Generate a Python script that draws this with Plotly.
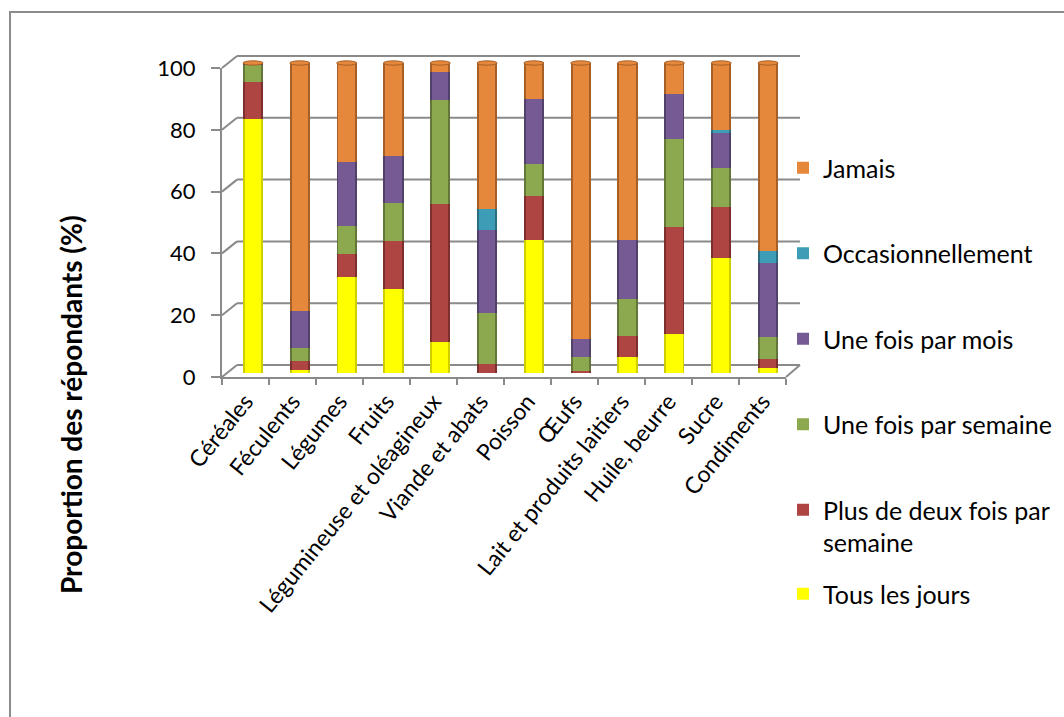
import plotly.graph_objects as go

# Food groups (x axis)
categories = [
    "Céréales", "Féculents", "Légumes", "Fruits", "Légumineuse et oléagineux",
    "Viande et abats", "Poisson", "Œufs", "Lait et produits laitiers",
    "Huile, beurre", "Sucre", "Condiments",
]

# Consumption frequency, % of respondents (stack order bottom -> top)
tous_les_jours = [82, 1, 31, 27, 10, 0, 43, 0, 5, 12.5, 37, 1.5]
plus_deux_fois = [12, 3, 7.5, 15.5, 44.5, 3, 14, 0.5, 7, 34.5, 16.5, 3]
une_fois_semaine = [5.5, 4, 9, 12.5, 33.5, 16.5, 10.5, 4.7, 12, 28.5, 12.5, 7]
une_fois_mois = [0.3, 12, 20.5, 15, 9, 26.5, 21, 5.7, 19, 14.5, 11.5, 24]
occasionnellement = [0, 0, 0, 0, 0, 7, 0, 0, 0, 0, 1, 4]
jamais = [0.2, 80, 32, 30, 3, 47, 11.5, 89.1, 57, 10, 21.5, 60.5]

y_ticks = [0, 20, 40, 60, 80, 100]

W, H = 1064, 717
FONT = "Lato"
GRID = "#8A8A8A"


def px(x):
    return x / W


def py(y):
    return 1 - y / H


# value -> pixel row on the front axis and on the back wall of the 3D frame
def front_row(v):
    return 377 - v * 3.09


def back_row(v):
    return 365 - v * 3.09


# (legend label, values, face colour, edge colour, legend, legend rank)
series = [
    ("Tous les jours", tous_les_jours, "#FFFF00", "#CFCF00", "legend2", 1),
    ("Plus de deux fois par<br>semaine", plus_deux_fois, "#AE4542", "#7C2F2D", "legend", 5),
    ("Une fois par semaine", une_fois_semaine, "#8DA94F", "#637838", "legend", 4),
    ("Une fois par mois", une_fois_mois, "#765A94", "#51406A", "legend", 3),
    ("Occasionnellement", occasionnellement, "#3E9DB6", "#2A6F81", "legend", 2),
    ("Jamais", jamais, "#E6883B", "#A65F27", "legend", 1),
]

fig = go.Figure()

# dark outer body of each cylinder
for name, vals, light, dark, leg, rank in series:
    fig.add_trace(go.Bar(
        x=categories, y=vals, name=name, showlegend=False,
        marker=dict(color=dark, line=dict(width=0)), width=0.43,
        xaxis="x", yaxis="y", hoverinfo="skip",
    ))

# lighter face of each cylinder
for name, vals, light, dark, leg, rank in series:
    fig.add_trace(go.Bar(
        x=categories, y=vals, name=name, legendgroup=name, legend=leg,
        legendrank=rank,
        marker=dict(color=light, line=dict(width=0)), width=0.35,
        xaxis="x3", yaxis="y",
    ))

# front axes (labels and ticks)
fig.add_trace(go.Scatter(
    x=categories, y=[None] * len(categories), xaxis="x2", yaxis="y2",
    mode="markers", showlegend=False, hoverinfo="skip",
))

shapes = []

# back wall gridlines and left-wall depth lines
for v in y_ticks:
    shapes.append(dict(type="line", xref="paper", yref="paper",
                       x0=px(237), x1=px(800), y0=py(back_row(v)), y1=py(back_row(v)),
                       line=dict(color=GRID, width=2), layer="below"))
    shapes.append(dict(type="line", xref="paper", yref="paper",
                       x0=px(222), x1=px(237), y0=py(front_row(v)), y1=py(back_row(v)),
                       line=dict(color=GRID, width=2), layer="below"))

# right edge of the floor
shapes.append(dict(type="line", xref="paper", yref="paper",
                   x0=px(786), x1=px(800), y0=py(front_row(0)), y1=py(back_row(0)),
                   line=dict(color=GRID, width=2), layer="below"))

# elliptical caps on top of each cylinder
for i in range(len(categories)):
    stack = [s[1][i] for s in series]
    total = sum(stack)
    top = max(k for k, v in enumerate(stack) if v > 0)
    light, dark = series[top][2], series[top][3]
    shapes.append(dict(type="circle", xref="x", yref="y",
                       x0=i - 0.215, x1=i + 0.215, y0=total - 0.7, y1=total + 0.7,
                       fillcolor=light, line=dict(color=dark, width=1), layer="above"))

# chart border
shapes.append(dict(type="rect", xref="paper", yref="paper",
                   x0=px(10), x1=1.05, y0=py(12), y1=-0.05,
                   line=dict(color="#8C8C8C", width=2), fillcolor="rgba(0,0,0,0)"))

legend_style = dict(xanchor="left", yanchor="top", valign="top", itemwidth=30,
                    traceorder="grouped", tracegroupgap=50,
                    font=dict(size=25, family=FONT), bgcolor="rgba(0,0,0,0)")

fig.update_layout(
    width=W, height=H,
    margin=dict(l=0, r=0, t=0, b=0, autoexpand=False),
    paper_bgcolor="white", plot_bgcolor="rgba(0,0,0,0)",
    barmode="stack",
    font=dict(family=FONT, color="#000000"),
    shapes=shapes,
    xaxis=dict(domain=[px(229.6), px(791.4)], range=[-0.5, 11.5], type="category",
               categoryarray=categories, visible=False, anchor="y", automargin=False),
    xaxis3=dict(overlaying="x", range=[-0.5, 11.5], type="category",
                categoryarray=categories, visible=False, anchor="y", automargin=False),
    yaxis=dict(domain=[py(373), py(373 - 103 * 3.1)], range=[0, 103], visible=False,
               anchor="x", automargin=False),
    xaxis2=dict(domain=[px(222), px(786)], range=[-0.5, 11.5], type="category",
                categoryarray=categories, anchor="y2", automargin=False,
                showline=True, linecolor=GRID, linewidth=2,
                ticks="outside", tickson="boundaries", ticklen=6, tickcolor=GRID,
                tickwidth=2, tickangle=-51, tickfont=dict(size=23, family=FONT),
                showgrid=False, zeroline=False),
    yaxis2=dict(domain=[py(front_row(0)), py(front_row(100))], range=[0, 100],
                anchor="x2", tickvals=y_ticks, automargin=False,
                showline=True, linecolor=GRID, linewidth=2,
                ticks="outside", ticklen=9, tickcolor=GRID, tickwidth=2,
                tickfont=dict(size=22, family=FONT), ticklabelstandoff=11,
                showgrid=False, zeroline=False),
    legend=dict(x=px(783), y=py(145), **legend_style),
    legend2=dict(x=px(783), y=py(571), **legend_style),
    annotations=[dict(
        text="<b>Proportion des répondants (%)</b>", textangle=-90,
        xref="paper", yref="paper", x=px(52), y=py(405),
        showarrow=False, font=dict(size=28, family=FONT),
    )],
)

fig.write_html("out.html")
